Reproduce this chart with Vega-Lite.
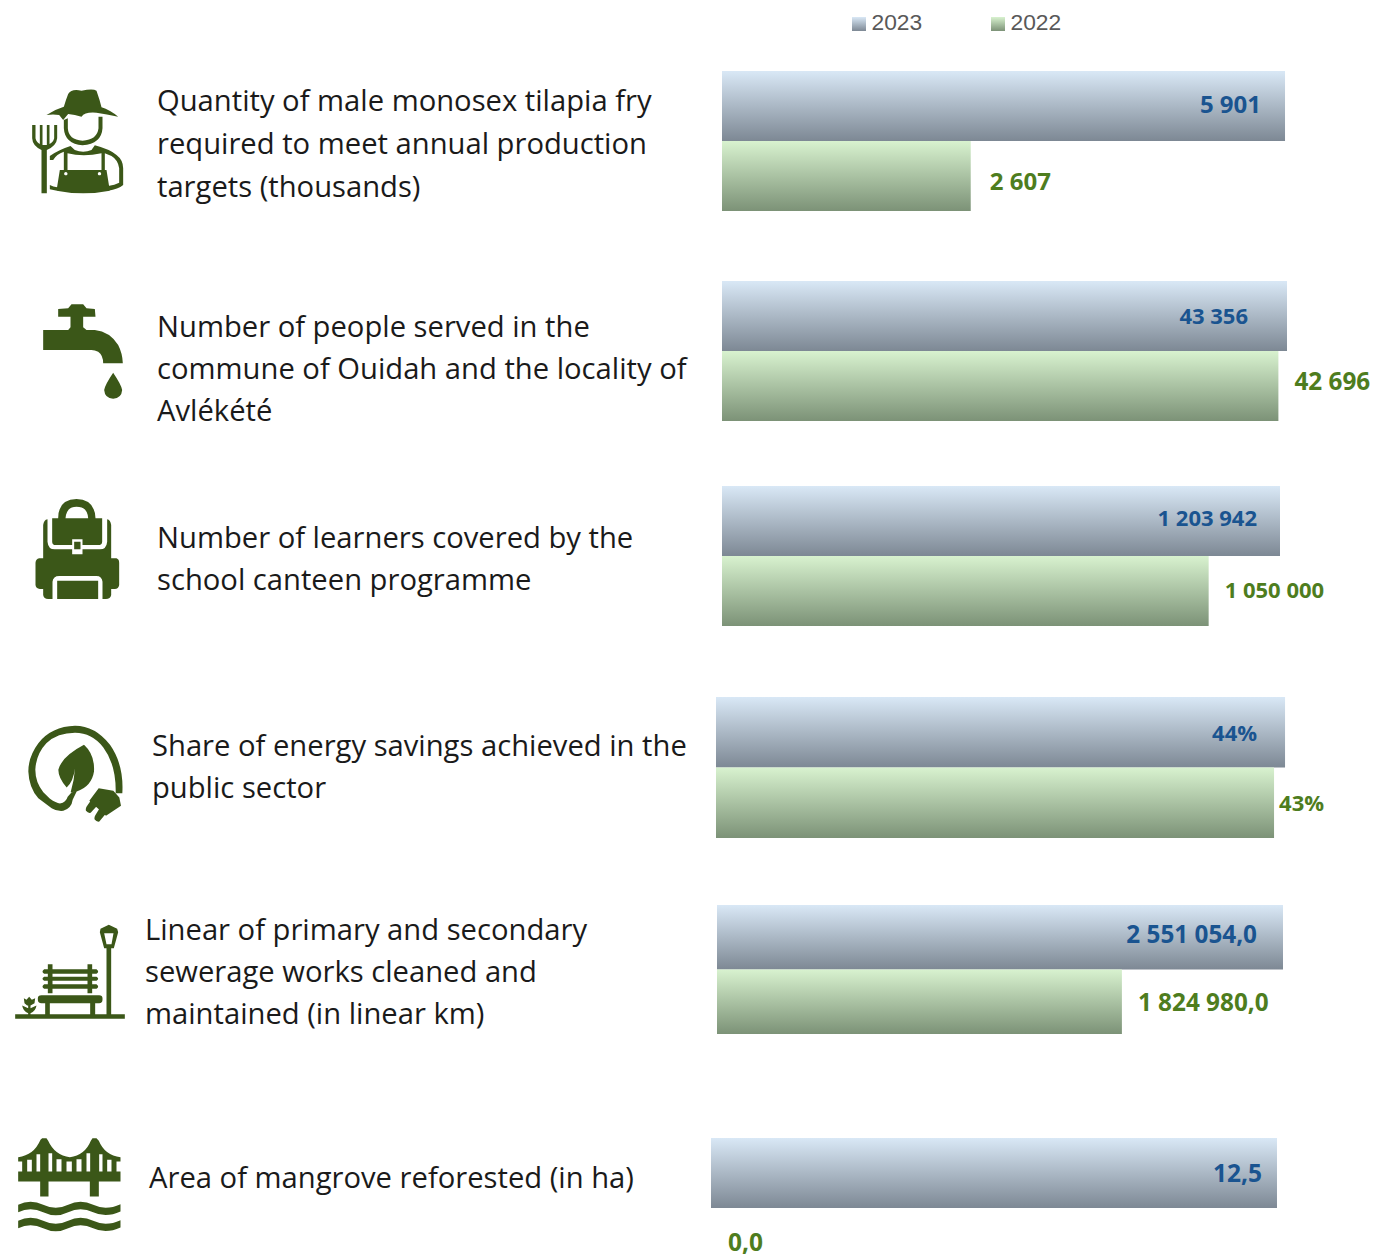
{"$schema":"https://vega.github.io/schema/vega-lite/v6.json","padding":0,"background":"white","spacing":0,"config":{"view":{"stroke":null},"concat":{"spacing":0}},"vconcat":[
{"width":1381,"height":71,"data":{"values":[{"year":"2023"},{"year":"2022"}]},"encoding":{"x":{"field":"year","type":"nominal","axis":null,"scale":{"type":"point","padding":0,"domain":["2023","2022"],"range":[859,998]}},"y":{"field":"year","type":"nominal","axis":null,"scale":{"type":"point","padding":0,"domain":["2023","2022"],"range":[24,24]}}},"layer":[
{"transform":[{"filter":"datum.year==='2023'"}],"mark":{"type":"point","shape":"square","filled":true,"opacity":1,"size":196,"strokeWidth":0,"fill":{"gradient":"linear","x1":0,"y1":0,"x2":0,"y2":1,"stops":[{"offset":0,"color":"#d9e8f6"},{"offset":1,"color":"#7d8894"}]}}},
{"transform":[{"filter":"datum.year==='2022'"}],"mark":{"type":"point","shape":"square","filled":true,"opacity":1,"size":196,"strokeWidth":0,"fill":{"gradient":"linear","x1":0,"y1":0,"x2":0,"y2":1,"stops":[{"offset":0,"color":"#d8f2cf"},{"offset":1,"color":"#7c9277"}]}}},
{"mark":{"type":"text","align":"left","baseline":"middle","font":"Liberation Sans","fontSize":22.8,"color":"#595959","dx":12.5,"dy":-1},"encoding":{"text":{"field":"year"}}}
]},
{"bounds":"flush","hconcat":[
{"width":157,"height":140,"data":{"values":[{"icon":"farmer"}]},"mark":{"type":"point","filled":true,"opacity":1,"color":"#3b5718","strokeWidth":0,"size":0.4444,"shape":"M-31,-141 Q-21,-158 9,-151 Q44,-158 54,-151 Q64,-123 69,-101 Q94,-93 119,-73 Q84,-81 54,-85 Q19,-88 9,-73 L-11,-78 L-31,-81 L-46,-63 L-58,-78 Q-76,-81 -96,-78 Q-71,-95 -44,-103 Q-38,-123 -31,-141 Z M-44,-63 L-32,-68 L-32,-38 Q-30,-3 12,-1 Q56,-3 60,-38 L60,-73 L72,-73 L72,-38 Q69,9 12,13 Q-41,9 -44,-38 Z M-86,45 Q-61,27 -24,15 L-11,27 Q14,37 39,27 L49,13 Q94,25 114,42 Q134,57 134,82 L134,132 Q119,145 89,149 L89,135 Q109,132 122,125 L122,82 Q119,57 99,45 L79,37 L79,87 L69,87 L69,37 Q14,49 -33,37 L-33,87 L-44,87 L-44,32 Q-66,39 -76,57 L-86,57 Z M-56,87 L84,87 L94,149 Q14,165 -66,149 Z M-43,98 A5,5 0 1 0 -33,98 A5,5 0 1 0 -43,98 Z M58,98 A5,5 0 1 0 68,98 A5,5 0 1 0 58,98 Z M-86,132 Q-76,137 -64,139 L-64,149 Q-76,147 -86,145 Z M-139,-48 L-129,-48 L-129,-8 Q-126,5 -116,9 L-116,-48 L-108,-48 L-108,12 L-95,12 L-95,-48 L-87,-48 L-87,9 Q-76,5 -73,-8 L-73,-48 L-64,-48 L-64,-8 Q-66,15 -95,27 L-95,157 L-111,157 L-111,27 Q-138,15 -139,-8 Z"},"encoding":{}},
{"width":565,"height":140,"data":{"values":[{"n":1,"line":"Quantity of male monosex tilapia fry"},{"n":2,"line":"required to meet annual production"},{"n":3,"line":"targets (thousands)"}]},"mark":{"type":"text","align":"left","baseline":"middle","font":"Open Sans","fontSize":29.2,"color":"#1a1a1a","dy":2},"encoding":{"x":{"value":0},"y":{"field":"n","type":"ordinal","axis":null,"scale":{"type":"point","padding":0,"range":[29,115]}},"text":{"field":"line"}}},
{"width":659,"height":140,"data":{"values":[{"year":"2023","value":5901,"label":"5 901"},{"year":"2022","value":2607,"label":"2 607"}]},"encoding":{"x":{"field":"value","type":"quantitative","axis":null,"scale":{"domain":[0,6907]}},"y":{"field":"year","type":"nominal","axis":null,"scale":{"type":"band","domain":["2023","2022"],"paddingInner":0,"paddingOuter":0}}},"layer":[
{"transform":[{"filter":"datum.year==='2023'"}],"mark":{"type":"bar","fill":{"gradient":"linear","x1":0,"y1":0,"x2":0,"y2":1,"stops":[{"offset":0,"color":"#d9e8f6"},{"offset":1,"color":"#7d8894"}]}}},
{"transform":[{"filter":"datum.year==='2022'"}],"mark":{"type":"bar","fill":{"gradient":"linear","x1":0,"y1":0,"x2":0,"y2":1,"stops":[{"offset":0,"color":"#d8f2cf"},{"offset":1,"color":"#7c9277"}]}}},
{"transform":[{"filter":"datum.year==='2023'"}],"mark":{"type":"text","align":"right","baseline":"middle","font":"Open Sans","fontWeight":"bold","fontSize":24,"color":"#1a5490","dx":-24,"dy":0},"encoding":{"text":{"field":"label"}}},
{"transform":[{"filter":"datum.year==='2022'"}],"mark":{"type":"text","align":"left","baseline":"middle","font":"Open Sans","fontWeight":"bold","fontSize":24,"color":"#4e7d1e","dx":19,"dy":7},"encoding":{"text":{"field":"label"}}}
]}
]},
{"width":100,"height":70,"data":{"values":[{"k":"spacer"}]},"mark":{"type":"point","opacity":0},"encoding":{}},
{"bounds":"flush","hconcat":[
{"width":157,"height":140,"data":{"values":[{"icon":"tap"}]},"mark":{"type":"point","filled":true,"opacity":1,"color":"#3b5718","strokeWidth":0,"size":0.4444,"shape":"M-31,-128 L-21,-140 L14,-140 L24,-128 L49,-126 L51,-103 L14,-103 L14,-71 L24,-63 L49,-63 Q94,-58 119,-18 Q132,7 133,37 L74,37 Q74,12 59,2 Q49,-3 39,-3 L-106,-3 L-106,-63 L-31,-63 L-24,-71 L-24,-103 L-61,-103 L-61,-126 Z M104,65 Q129,102 131,117 Q129,142 104,143 Q79,142 77,117 Q79,102 104,65 Z"},"encoding":{}},
{"width":565,"height":140,"data":{"values":[{"n":1,"line":"Number of people served in the"},{"n":2,"line":"commune of Ouidah and the locality of"},{"n":3,"line":"Avlékété"}]},"mark":{"type":"text","align":"left","baseline":"middle","font":"Open Sans","fontSize":29.2,"color":"#1a1a1a","dy":2},"encoding":{"x":{"value":0},"y":{"field":"n","type":"ordinal","axis":null,"scale":{"type":"point","padding":0,"range":[45,129]}},"text":{"field":"line"}}},
{"width":659,"height":140,"data":{"values":[{"year":"2023","value":43356,"label":"43 356"},{"year":"2022","value":42696,"label":"42 696"}]},"encoding":{"x":{"field":"value","type":"quantitative","axis":null,"scale":{"domain":[0,50569]}},"y":{"field":"year","type":"nominal","axis":null,"scale":{"type":"band","domain":["2023","2022"],"paddingInner":0,"paddingOuter":0}}},"layer":[
{"transform":[{"filter":"datum.year==='2023'"}],"mark":{"type":"bar","fill":{"gradient":"linear","x1":0,"y1":0,"x2":0,"y2":1,"stops":[{"offset":0,"color":"#d9e8f6"},{"offset":1,"color":"#7d8894"}]}}},
{"transform":[{"filter":"datum.year==='2022'"}],"mark":{"type":"bar","fill":{"gradient":"linear","x1":0,"y1":0,"x2":0,"y2":1,"stops":[{"offset":0,"color":"#d8f2cf"},{"offset":1,"color":"#7c9277"}]}}},
{"transform":[{"filter":"datum.year==='2023'"}],"mark":{"type":"text","align":"right","baseline":"middle","font":"Open Sans","fontWeight":"bold","fontSize":22,"color":"#1a5490","dx":-39,"dy":1},"encoding":{"text":{"field":"label"}}},
{"transform":[{"filter":"datum.year==='2022'"}],"mark":{"type":"text","align":"left","baseline":"middle","font":"Open Sans","fontWeight":"bold","fontSize":24.3,"color":"#4e7d1e","dx":16,"dy":-3},"encoding":{"text":{"field":"label"}}}
]}
]},
{"width":100,"height":58,"data":{"values":[{"k":"spacer"}]},"mark":{"type":"point","opacity":0},"encoding":{}},
{"bounds":"flush","hconcat":[
{"width":157,"height":140,"data":{"values":[{"icon":"backpack"}]},"mark":{"type":"point","filled":true,"opacity":1,"color":"#3b5718","strokeWidth":0,"size":0.4444,"shape":"M-61,-113 Q-61,-170 -6,-171 Q49,-170 51,-113 L29,-113 Q27,-148 -6,-148 Q-36,-148 -39,-113 Z M-79,-113 L71,-113 L71,-43 Q71,-33 59,-33 L12,-33 L12,-50 L-19,-50 L-19,-33 L-68,-33 Q-79,-33 -79,-43 Z M-13,-43 L6,-43 L6,-20 L-13,-20 Z M-106,-93 Q-104,-108 -93,-110 L-93,-43 Q-91,-20 -71,-20 L-19,-20 L-19,-5 L12,-5 L12,-20 L64,-20 Q84,-20 86,-43 L86,-110 Q96,-108 98,-93 L98,7 L114,7 Q122,10 122,20 L122,87 Q120,99 109,99 L98,99 L98,117 Q96,129 82,129 L72,129 L72,77 Q70,60 54,60 L-58,60 Q-76,60 -78,77 L-78,129 L-91,129 Q-104,129 -106,117 L-106,99 L-116,99 Q-128,97 -129,87 L-129,20 Q-128,9 -118,7 L-106,7 Z M-64,74 L59,74 L59,129 L-64,129 Z"},"encoding":{}},
{"width":565,"height":140,"data":{"values":[{"n":1,"line":"Number of learners covered by the"},{"n":2,"line":"school canteen programme"}]},"mark":{"type":"text","align":"left","baseline":"middle","font":"Open Sans","fontSize":29.2,"color":"#1a1a1a","dy":2},"encoding":{"x":{"value":0},"y":{"field":"n","type":"ordinal","axis":null,"scale":{"type":"point","padding":0,"range":[51,93]}},"text":{"field":"line"}}},
{"width":659,"height":140,"data":{"values":[{"year":"2023","value":1203942,"label":"1 203 942"},{"year":"2022","value":1050000,"label":"1 050 000"}]},"encoding":{"x":{"field":"value","type":"quantitative","axis":null,"scale":{"domain":[0,1421852]}},"y":{"field":"year","type":"nominal","axis":null,"scale":{"type":"band","domain":["2023","2022"],"paddingInner":0,"paddingOuter":0}}},"layer":[
{"transform":[{"filter":"datum.year==='2023'"}],"mark":{"type":"bar","fill":{"gradient":"linear","x1":0,"y1":0,"x2":0,"y2":1,"stops":[{"offset":0,"color":"#d9e8f6"},{"offset":1,"color":"#7d8894"}]}}},
{"transform":[{"filter":"datum.year==='2022'"}],"mark":{"type":"bar","fill":{"gradient":"linear","x1":0,"y1":0,"x2":0,"y2":1,"stops":[{"offset":0,"color":"#d8f2cf"},{"offset":1,"color":"#7c9277"}]}}},
{"transform":[{"filter":"datum.year==='2023'"}],"mark":{"type":"text","align":"right","baseline":"middle","font":"Open Sans","fontWeight":"bold","fontSize":22,"color":"#1a5490","dx":-23,"dy":-2},"encoding":{"text":{"field":"label"}}},
{"transform":[{"filter":"datum.year==='2022'"}],"mark":{"type":"text","align":"left","baseline":"middle","font":"Open Sans","fontWeight":"bold","fontSize":22,"color":"#4e7d1e","dx":16,"dy":0},"encoding":{"text":{"field":"label"}}}
]}
]},
{"width":100,"height":71,"data":{"values":[{"k":"spacer"}]},"mark":{"type":"point","opacity":0},"encoding":{}},
{"bounds":"flush","hconcat":[
{"width":152,"height":141,"data":{"values":[{"icon":"energy"}]},"mark":{"type":"point","filled":true,"opacity":1,"color":"#3b5718","strokeWidth":0,"size":0.4444,"shape":"M139,77 Q144,-8 102,-68 Q57,-125 -3,-125 Q-73,-123 -113,-73 Q-143,-33 -143,12 Q-141,62 -113,92 L-73,122 Q-58,132 -38,130 Q-13,122 -10,97 L2,72 L-13,74 L-25,88 Q-30,105 -48,108 Q-60,107 -78,94 L-98,74 Q-122,45 -122,7 Q-120,-40 -89,-73 Q-55,-104 -3,-104 Q48,-104 82,-60 Q121,-8 119,77 Z M24,-68 Q57,-38 54,12 Q47,57 2,72 L-16,74 Q-5,37 -3,2 Q-8,42 -28,60 Q-53,32 -53,7 Q-43,-33 24,-68 Z M68,62 L112,70 L130,90 L135,115 L90,145 L40,100 Z M44,100 L62,116 L44,136 Q36,138 30,130 Q28,124 32,117 Z M70,124 L88,140 L70,162 Q62,164 56,156 Q54,150 58,143 Z"},"encoding":{}},
{"width":564,"height":141,"data":{"values":[{"n":1,"line":"Share of energy savings achieved in the"},{"n":2,"line":"public sector"}]},"mark":{"type":"text","align":"left","baseline":"middle","font":"Open Sans","fontSize":29.2,"color":"#1a1a1a","dy":2},"encoding":{"x":{"value":0},"y":{"field":"n","type":"ordinal","axis":null,"scale":{"type":"point","padding":0,"range":[48,90]}},"text":{"field":"line"}}},
{"width":665,"height":141,"data":{"values":[{"year":"2023","value":44,"label":"44%"},{"year":"2022","value":43.15,"label":"43%"}]},"encoding":{"x":{"field":"value","type":"quantitative","axis":null,"scale":{"domain":[0,51.42]}},"y":{"field":"year","type":"nominal","axis":null,"scale":{"type":"band","domain":["2023","2022"],"paddingInner":0,"paddingOuter":0}}},"layer":[
{"transform":[{"filter":"datum.year==='2023'"}],"mark":{"type":"bar","fill":{"gradient":"linear","x1":0,"y1":0,"x2":0,"y2":1,"stops":[{"offset":0,"color":"#d9e8f6"},{"offset":1,"color":"#7d8894"}]}}},
{"transform":[{"filter":"datum.year==='2022'"}],"mark":{"type":"bar","fill":{"gradient":"linear","x1":0,"y1":0,"x2":0,"y2":1,"stops":[{"offset":0,"color":"#d8f2cf"},{"offset":1,"color":"#7c9277"}]}}},
{"transform":[{"filter":"datum.year==='2023'"}],"mark":{"type":"text","align":"right","baseline":"middle","font":"Open Sans","fontWeight":"bold","fontSize":22,"color":"#1a5490","dx":-28,"dy":2},"encoding":{"text":{"field":"label"}}},
{"transform":[{"filter":"datum.year==='2022'"}],"mark":{"type":"text","align":"left","baseline":"middle","font":"Open Sans","fontWeight":"bold","fontSize":22,"color":"#4e7d1e","dx":5,"dy":1},"encoding":{"text":{"field":"label"}}}
]}
]},
{"width":100,"height":67,"data":{"values":[{"k":"spacer"}]},"mark":{"type":"point","opacity":0},"encoding":{}},
{"bounds":"flush","hconcat":[
{"width":145,"height":129,"data":{"values":[{"icon":"bench"}]},"mark":{"type":"point","filled":true,"opacity":1,"color":"#3b5718","strokeWidth":0,"size":0.4444,"shape":"M109,-134 L134,-122 L137,-112 L124,-64 L95,-64 L82,-112 L84,-122 Z M95,-109 L102,-76 L117,-76 L123,-109 Z M102,-64 L116,-64 L116,136 L102,136 Z M-172,134 L157,134 L157,148 L-172,148 Z M-104,86 Q-104,77 -93,77 L80,77 Q90,77 90,86 L90,91 Q90,101 80,101 L-93,101 Q-104,101 -104,91 Z M-82,101 L-68,101 L-68,136 L-82,136 Z M53,101 L68,101 L68,136 L53,136 Z M-85,-1 L72,-1 Q82,6 72,13 L-85,13 Q-95,6 -85,-1 Z M-85,22 L72,22 Q82,28 72,34 L-85,34 Q-95,28 -85,22 Z M-85,44 L72,44 Q82,51 72,58 L-85,58 Q-95,51 -85,44 Z M-74,-16 L-60,-16 L-60,71 L-74,71 Z M45,-16 L59,-16 L59,71 L45,71 Z M-146,86 L-138,91 L-130,82 L-122,91 L-112,86 L-114,101 L-126,108 L-136,108 L-144,101 Z M-133,106 L-126,106 L-126,134 L-133,134 Z M-151,108 L-133,116 L-133,131 Q-148,126 -151,108 Z M-108,108 L-126,116 L-126,131 Q-111,126 -108,108 Z"},"encoding":{}},
{"width":572,"height":129,"data":{"values":[{"n":1,"line":"Linear of primary and secondary"},{"n":2,"line":"sewerage works cleaned and"},{"n":3,"line":"maintained (in linear km)"}]},"mark":{"type":"text","align":"left","baseline":"middle","font":"Open Sans","fontSize":29.2,"color":"#1a1a1a","dy":2},"encoding":{"x":{"value":0},"y":{"field":"n","type":"ordinal","axis":null,"scale":{"type":"point","padding":0,"range":[24,108]}},"text":{"field":"line"}}},
{"width":664,"height":129,"data":{"values":[{"year":"2023","value":2551054,"label":"2 551 054,0"},{"year":"2022","value":1824980,"label":"1 824 980,0"}]},"encoding":{"x":{"field":"value","type":"quantitative","axis":null,"scale":{"domain":[0,2992776]}},"y":{"field":"year","type":"nominal","axis":null,"scale":{"type":"band","domain":["2023","2022"],"paddingInner":0,"paddingOuter":0}}},"layer":[
{"transform":[{"filter":"datum.year==='2023'"}],"mark":{"type":"bar","fill":{"gradient":"linear","x1":0,"y1":0,"x2":0,"y2":1,"stops":[{"offset":0,"color":"#d9e8f6"},{"offset":1,"color":"#7d8894"}]}}},
{"transform":[{"filter":"datum.year==='2022'"}],"mark":{"type":"bar","fill":{"gradient":"linear","x1":0,"y1":0,"x2":0,"y2":1,"stops":[{"offset":0,"color":"#d8f2cf"},{"offset":1,"color":"#7c9277"}]}}},
{"transform":[{"filter":"datum.year==='2023'"}],"mark":{"type":"text","align":"right","baseline":"middle","font":"Open Sans","fontWeight":"bold","fontSize":24.3,"color":"#1a5490","dx":-26,"dy":-1},"encoding":{"text":{"field":"label"}}},
{"transform":[{"filter":"datum.year==='2022'"}],"mark":{"type":"text","align":"left","baseline":"middle","font":"Open Sans","fontWeight":"bold","fontSize":24.3,"color":"#4e7d1e","dx":16,"dy":2},"encoding":{"text":{"field":"label"}}}
]}
]},
{"width":100,"height":104,"data":{"values":[{"k":"spacer"}]},"mark":{"type":"point","opacity":0},"encoding":{}},
{"bounds":"flush","hconcat":[
{"width":149,"height":117,"data":{"values":[{"icon":"bridge"}]},"mark":{"type":"point","filled":true,"opacity":1,"color":"#3b5718","strokeWidth":0,"size":0.4444,"shape":"M-169,-118 Q-122,-123 -102,-170 L-97,-175 L-84,-175 L-79,-167 Q-59,-123 -14,-118 Q31,-123 49,-167 L54,-175 L66,-175 L73,-167 Q91,-123 138,-118 L138,-75 L-169,-75 Z M-142,-110 L-142,-75 L-128,-75 L-128,-110 Z M-114,-127 L-114,-75 L-103,-75 L-103,-127 Z M-78,-130 L-78,-75 L-67,-75 L-67,-130 Z M-54,-112 L-54,-75 L-39,-75 L-39,-112 Z M-24,-105 L-24,-75 L-8,-75 L-8,-105 Z M6,-112 L6,-75 L21,-75 L21,-112 Z M36,-130 L36,-75 L47,-75 L47,-130 Z M74,-127 L74,-75 L84,-75 L84,-127 Z M98,-110 L98,-75 L111,-75 L111,-110 Z M-169,-105 L-169,-75 L-157,-75 L-157,-105 Z M126,-105 L126,-75 L138,-75 L138,-105 Z M-169,-75 L138,-75 L138,-45 L-169,-45 Z M-103,-45 L-78,-45 L-78,0 L-103,0 Z M46,-45 L73,-45 L73,0 L46,0 Z M-169,25 Q-132,7 -94,25 Q-56,43 -19,25 Q18,7 56,25 Q94,43 138,23 L138,45 Q94,65 56,47 Q18,29 -19,47 Q-56,65 -94,47 Q-132,29 -169,47 Z M-169,73 Q-132,55 -94,73 Q-56,91 -19,73 Q18,55 56,73 Q94,91 138,71 L138,93 Q94,113 56,95 Q18,77 -19,95 Q-56,113 -94,95 Q-132,77 -169,95 Z"},"encoding":{}},
{"width":562,"height":117,"data":{"values":[{"n":1,"line":"Area of mangrove reforested (in ha)"}]},"mark":{"type":"text","align":"left","baseline":"middle","font":"Open Sans","fontSize":29.2,"color":"#1a1a1a","dy":2},"encoding":{"x":{"value":0},"y":{"field":"n","type":"ordinal","axis":null,"scale":{"type":"point","padding":0,"range":[39,39]}},"text":{"field":"line"}}},
{"width":670,"height":117,"data":{"values":[{"year":"2023","value":12.5,"label":"12,5"},{"year":"2022","value":0,"label":"0,0"}]},"encoding":{"x":{"field":"value","type":"quantitative","axis":null,"scale":{"domain":[0,14.797]}},"y":{"field":"year","type":"nominal","axis":null,"scale":{"type":"band","domain":["2023","2022"],"range":[0,140],"paddingInner":0,"paddingOuter":0}}},"layer":[
{"transform":[{"filter":"datum.year==='2023'"}],"mark":{"type":"bar","fill":{"gradient":"linear","x1":0,"y1":0,"x2":0,"y2":1,"stops":[{"offset":0,"color":"#d9e8f6"},{"offset":1,"color":"#7d8894"}]}}},
{"transform":[{"filter":"datum.year==='2022'"}],"mark":{"type":"bar","clip":true,"fill":{"gradient":"linear","x1":0,"y1":0,"x2":0,"y2":1,"stops":[{"offset":0,"color":"#d8f2cf"},{"offset":1,"color":"#7c9277"}]}}},
{"transform":[{"filter":"datum.year==='2023'"}],"mark":{"type":"text","align":"right","baseline":"middle","font":"Open Sans","fontWeight":"bold","fontSize":24.5,"color":"#1a5490","dx":-15,"dy":2},"encoding":{"text":{"field":"label"}}},
{"transform":[{"filter":"datum.year==='2022'"}],"mark":{"type":"text","align":"left","baseline":"middle","font":"Open Sans","fontWeight":"bold","fontSize":24.5,"color":"#4e7d1e","dx":17,"dy":1},"encoding":{"text":{"field":"label"}}}
]}
]}
]}
